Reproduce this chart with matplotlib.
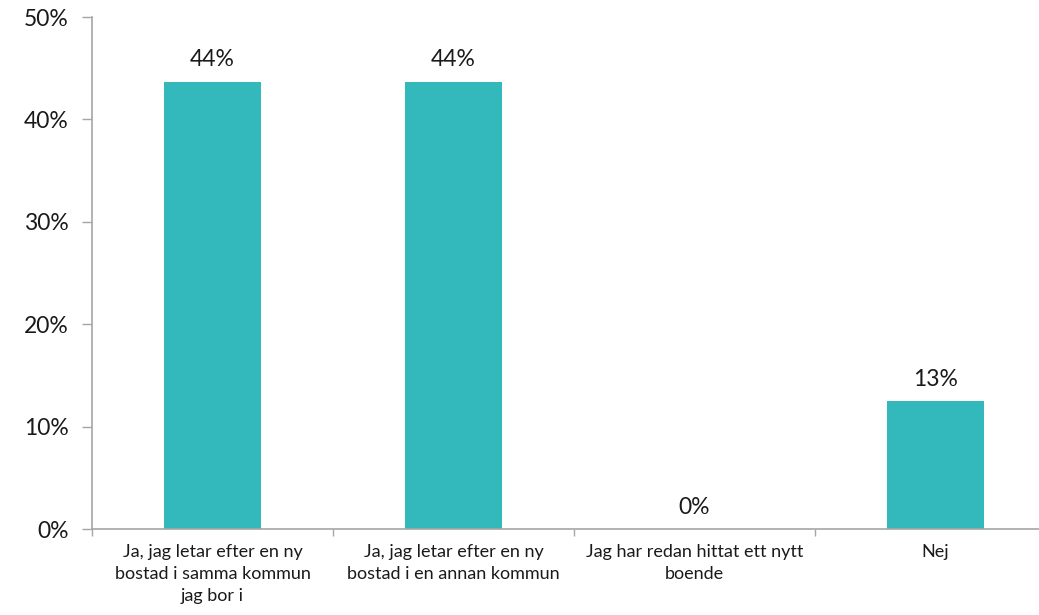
import matplotlib.pyplot as plt
import numpy as np

categories = [
    "Ja, jag letar efter en ny\nbostad i samma kommun\njag bor i",
    "Ja, jag letar efter en ny\nbostad i en annan kommun",
    "Jag har redan hittat ett nytt\nboende",
    "Nej",
]
values = [43.7, 43.7, 0.0, 12.5]
value_labels = ["44%", "44%", "0%", "13%"]
y_ticks = [0, 10, 20, 30, 40, 50]

BAR_COLOR = "#33B8BC"
AXIS_COLOR = "#A6A6A6"

plt.rcParams["font.family"] = ["Lato", "DejaVu Sans"]

fig = plt.figure(figsize=(10.39, 6.15), dpi=100)
ax = fig.add_axes([92 / 1039, 86 / 615, 964 / 1039, 512 / 615])

x = np.arange(len(categories))
ax.bar(x, values, width=0.4, color=BAR_COLOR, zorder=2)

for xi, v, lab in zip(x, values, value_labels):
    ax.annotate(lab, (xi, v), xytext=(0, 8), textcoords="offset points",
                ha="center", va="bottom", fontsize=16.5, color="#1a1a1a")

ax.set_xlim(-0.5, len(categories) - 0.5)
ax.set_ylim(0, 50)
ax.set_yticks(y_ticks)
ax.set_yticklabels([f"{t}%" for t in y_ticks], fontsize=16.5, color="#1a1a1a")

# category labels centred, ticks on the boundaries
ax.set_xticks(np.arange(len(categories) + 1) - 0.5)
ax.set_xticklabels([])
ax.set_xticks(x, minor=True)
ax.set_xticklabels(categories, minor=True, fontsize=13, color="#1a1a1a",
                   linespacing=1.45, va="top")
ax.tick_params(axis="x", which="minor", length=0, pad=11)
ax.tick_params(axis="x", which="major", length=5, width=1, color=AXIS_COLOR)
ax.tick_params(axis="y", length=7, width=1, color=AXIS_COLOR, pad=10)

for side in ("top", "right"):
    ax.spines[side].set_visible(False)
for side in ("left", "bottom"):
    ax.spines[side].set_color(AXIS_COLOR)
    ax.spines[side].set_linewidth(1.2)

fig.savefig("out.png", dpi=100)
